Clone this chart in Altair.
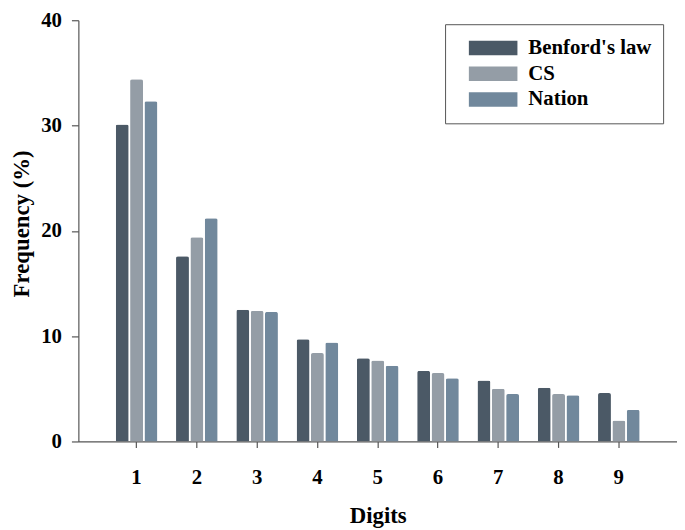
import altair as alt
import pandas as pd

digits = [1, 2, 3, 4, 5, 6, 7, 8, 9]
benford = [30.1, 17.6, 12.5, 9.7, 7.9, 6.7, 5.8, 5.1, 4.6]
cs = [34.4, 19.4, 12.4, 8.4, 7.7, 6.5, 5.0, 4.5, 2.0]
nation = [32.3, 21.2, 12.3, 9.4, 7.2, 6.0, 4.5, 4.4, 3.0]
series = ["Benford's law", "CS", "Nation"]
colors = ["#4b5966", "#949da6", "#71889c"]

rows = []
for name, vals in zip(series, [benford, cs, nation]):
    for d, v in zip(digits, vals):
        rows.append({"Digit": str(d), "Series": name, "Value": v})
df = pd.DataFrame(rows)

FONT = "Liberation Serif"

chart = alt.Chart(df).mark_bar(
    cornerRadiusTopLeft=2, cornerRadiusTopRight=2
).encode(
    x=alt.X("Digit:N", sort=[str(d) for d in digits],
            scale=alt.Scale(paddingInner=0.31, paddingOuter=0.62),
            axis=alt.Axis(title="Digits", labelAngle=0, tickSize=6,
                          labelPadding=19, titlePadding=18)),
    xOffset=alt.XOffset("Series:N", sort=series,
                        scale=alt.Scale(paddingInner=0.1)),
    y=alt.Y("Value:Q", scale=alt.Scale(domain=[0, 40]),
            axis=alt.Axis(title="Frequency (%)", values=[0, 10, 20, 30, 40],
                          tickSize=7, labelPadding=10, grid=False,
                          titleX=-45, titleY=205)),
    color=alt.Color("Series:N", sort=series,
                    scale=alt.Scale(domain=series, range=colors),
                    legend=alt.Legend(title=None, orient="none",
                                      legendX=370, legendY=4)),
).properties(
    width=604, height=425,
    autosize=alt.AutoSizeParams(type="none"),
    padding={"left": 71, "top": 10, "right": 0, "bottom": 90},
).configure_view(
    stroke=None
).configure_axis(
    labelFont=FONT, labelFontSize=21, labelFontWeight="bold", labelColor="black",
    titleFont=FONT, titleFontSize=23, titleFontWeight="bold", titleColor="black",
    domainColor="#555555", tickColor="#555555", domainWidth=1.2, tickWidth=1.2,
).configure_legend(
    labelFont=FONT, labelFontSize=21, labelFontWeight="bold", labelColor="black",
    strokeColor="#555555", fillColor="white", padding=11,
    symbolType="M-1,-0.3H1V0.3H-1Z", symbolSize=2401, symbolStrokeWidth=0,
    symbolOpacity=1, clipHeight=26, rowPadding=0, labelOffset=11, symbolOffset=13,
)

chart.save("out.html", embed_options={"renderer": "svg", "actions": False})
